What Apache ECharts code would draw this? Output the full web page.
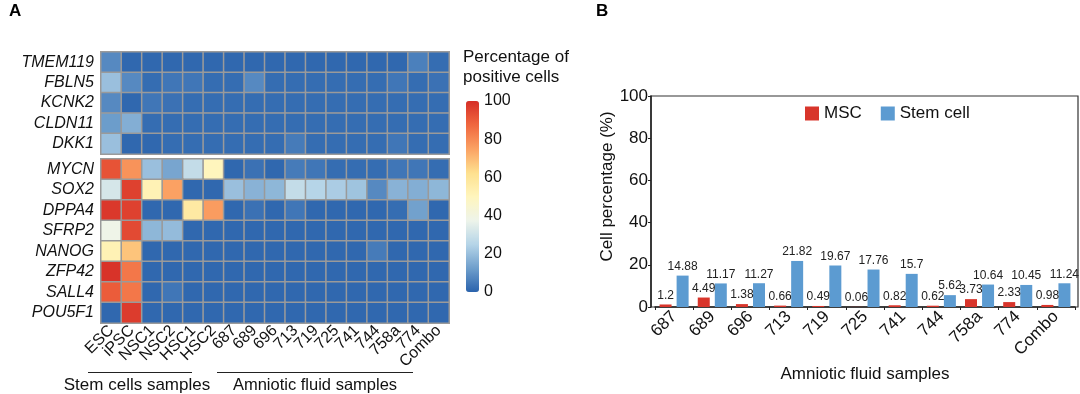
<!DOCTYPE html>
<html><head><meta charset="utf-8">
<script src="https://cdn.jsdelivr.net/npm/echarts@6/dist/echarts.min.js"></script>
<style>html,body{margin:0;padding:0;background:#fff}#c{width:1080px;height:394px}</style>
</head><body><div id="c"></div>
<script>
const samples = ['ESC','iPSC','NSC1','NSC2','HSC1','HSC2','687','689','696','713','719','725','741','744','758a','774','Combo'];
const topGenes = ['TMEM119','FBLN5','KCNK2','CLDN11','DKK1'];
const bottomGenes = ['MYCN','SOX2','DPPA4','SFRP2','NANOG','ZFP42','SALL4','POU5F1'];
// percentage of positive cells, one row per gene, columns follow `samples`
const topValues = [
  [8,1,1,1,1,1,1,1,1,1,1,1,1,1,1,6,2],
  [20,8,2,4,4,2,2,8,2,2,2,2,2,2,4,2,3],
  [8,1,4,3,2,2,2,2,2,2,2,2,2,2,2,2,2],
  [12,16,2,2,2,2,2,2,2,2,2,2,2,2,2,2,2],
  [20,1,1,2,2,2,2,2,2,5,2,2,2,2,4,2,2]
];
const bottomValues = [
  [92,78,20,14,28,50,1,3,1,5,4,2,2,2,4,4,2],
  [32,96,52,75,1,1,20,17,18,28,25,23,21,8,17,16,18],
  [98,96,1,1,57,76,1,3,1,4,1,1,1,1,2,13,1],
  [38,94,18,19,1,1,1,1,1,1,1,1,1,1,1,1,1],
  [52,68,1,1,1,1,1,1,1,1,1,1,1,5,1,1,1],
  [99,84,1,1,1,1,1,1,1,1,1,1,1,1,1,1,1],
  [90,84,1,4,1,1,1,1,1,1,1,1,1,1,1,1,1],
  [1,97,1,1,1,1,1,1,1,1,1,1,1,1,1,1,1]
];
const colorTicks = [0,20,40,60,80,100];
const afSamples = ['687','689','696','713','719','725','741','744','758a','774','Combo'];
const mscValues = [1.2,4.49,1.38,0.66,0.49,0.06,0.82,0.62,3.73,2.33,0.98];
const stemValues = [14.88,11.17,11.27,21.82,19.67,17.76,15.7,5.62,10.64,10.45,11.24];

function toCells(mat){const out=[];mat.forEach((row,r)=>row.forEach((v,c)=>out.push([c,r,v])));return out;}

const FONT = 'Liberation Sans, Arial, sans-serif';
const chart = echarts.init(document.getElementById('c'), null, {renderer:'canvas'});
const cellBorder = {borderColor:'#9a9a9a', borderWidth:1.5};
const heatXAxisBase = {type:'category', data:samples, axisLine:{show:false}, axisTick:{show:false}, splitLine:{show:false}};
const heatYAxisBase = {type:'category', inverse:true, axisLine:{show:false}, axisTick:{show:false},
  axisLabel:{fontFamily:FONT, fontSize:16, fontStyle:'italic', color:'#111', margin:7, interval:0}};

chart.setOption({
  animation:false,
  textStyle:{fontFamily:FONT},
  grid:[
    {left:101, top:52, width:348, height:102, show:true, borderColor:'#9a9a9a', borderWidth:1.5},
    {left:101, top:159, width:348, height:164, show:true, borderColor:'#9a9a9a', borderWidth:1.5},
    {left:466, top:101, width:13, height:191},
    {left:655, top:96, right:5, bottom:87},
    {left:651, top:96, right:2, bottom:87, show:true, borderColor:'#333', borderWidth:1.2}
  ],
  xAxis:[
    Object.assign({gridIndex:0, axisLabel:{show:false}}, heatXAxisBase),
    Object.assign({gridIndex:1, axisLabel:{fontFamily:FONT, fontSize:16, color:'#111', rotate:45, margin:5, interval:0}}, heatXAxisBase),
    {gridIndex:2, type:'value', show:false},
    {gridIndex:3, type:'category', data:afSamples, name:'Amniotic fluid samples', nameLocation:'middle', nameGap:42,
     nameTextStyle:{fontFamily:FONT, fontSize:17, color:'#111'},
     axisLine:{lineStyle:{color:'#222', width:1.5}}, axisTick:{show:true, length:3, lineStyle:{color:'#222'}},
     axisLabel:{fontFamily:FONT, fontSize:17, color:'#111', rotate:45, margin:7, interval:0}},
    {gridIndex:4, type:'value', show:false}
  ],
  yAxis:[
    Object.assign({gridIndex:0, data:topGenes}, heatYAxisBase),
    Object.assign({gridIndex:1, data:bottomGenes}, heatYAxisBase),
    {gridIndex:2, type:'value', min:0, max:100, interval:20, position:'right',
     axisLine:{show:false}, axisTick:{show:false}, splitLine:{show:false},
     axisLabel:{fontFamily:FONT, fontSize:16, color:'#111', margin:5, formatter:v=>colorTicks.includes(v)?String(v):''}},
    {gridIndex:3, type:'value', min:0, max:100, interval:20, offset:4, name:'Cell percentage (%)', nameLocation:'middle', nameGap:30,
     nameTextStyle:{fontFamily:FONT, fontSize:17, color:'#111', padding:[0,0,0,30]},
     axisLine:{show:true, lineStyle:{color:'#222', width:1.5}}, axisTick:{show:true, length:3, lineStyle:{color:'#222'}},
     splitLine:{show:false},
     axisLabel:{fontFamily:FONT, fontSize:17, color:'#111', margin:3}},
    {gridIndex:4, type:'value', show:false}
  ],
  visualMap:{type:'continuous', seriesIndex:[0,1], min:0, max:100, show:true, calculable:false,
    left:466, top:101, itemWidth:13, itemHeight:191, padding:0, orient:'vertical', text:null, hoverLink:false,
    inRange:{color:['#2a63ad','#6f9fcc','#b6d5e8','#eef4ea','#fff5bd','#fee08e','#fba163','#f0673f','#d62f27']}},
  legend:{data:['MSC','Stem cell'], left:800, top:100, itemWidth:14, itemHeight:14, itemGap:19,
    textStyle:{fontFamily:FONT, fontSize:17, color:'#111'}, icon:'rect'},
  series:[
    {type:'heatmap', xAxisIndex:0, yAxisIndex:0, data:toCells(topValues), itemStyle:cellBorder, emphasis:{disabled:true}},
    {type:'heatmap', xAxisIndex:1, yAxisIndex:1, data:toCells(bottomValues), itemStyle:cellBorder, emphasis:{disabled:true}},
    {type:'bar', name:'MSC', xAxisIndex:3, yAxisIndex:3, data:mscValues, barWidth:12, barGap:'42%',
     itemStyle:{color:'#d8352b'}, label:{show:true, position:'top', fontFamily:FONT, fontSize:12, color:'#222', distance:3}},
    {type:'bar', name:'Stem cell', xAxisIndex:3, yAxisIndex:3, data:stemValues, barWidth:12,
     itemStyle:{color:'#5c9bd1'}, label:{show:true, position:'top', fontFamily:FONT, fontSize:12, color:'#222', distance:3}}
  ],
  graphic:[
    {type:'text', left:9, top:3, style:{text:'A', font:'bold 17px '+FONT, fill:'#000'}},
    {type:'text', left:596, top:3, style:{text:'B', font:'bold 17px '+FONT, fill:'#000'}},
    {type:'text', left:463, top:47, style:{text:'Percentage of\npositive cells', font:'17px '+FONT, fill:'#111', lineHeight:20}},
    {type:'line', shape:{x1:88, y1:372.5, x2:192, y2:372.5}, style:{stroke:'#222', lineWidth:1}},
    {type:'line', shape:{x1:217, y1:372.5, x2:413, y2:372.5}, style:{stroke:'#222', lineWidth:1}},
    {type:'text', x:137, y:385, style:{text:'Stem cells samples', font:'17px '+FONT, fill:'#111', align:'center', verticalAlign:'middle'}},
    {type:'text', x:315, y:385, style:{text:'Amniotic fluid samples', font:'16.5px '+FONT, fill:'#111', align:'center', verticalAlign:'middle'}}
  ]
});
</script></body></html>
